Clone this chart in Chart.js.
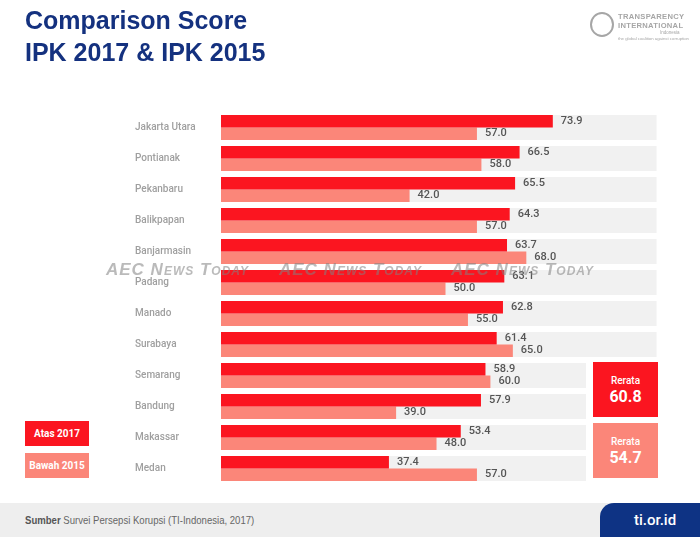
<!DOCTYPE html>
<html>
<head>
<meta charset="utf-8">
<script src="https://cdn.jsdelivr.net/npm/chart.js@4.4.1/dist/chart.umd.min.js"></script>
<style>
  body { margin: 0; background: #fff; font-family: Roboto, "Liberation Sans", sans-serif; }
  #page { position: relative; width: 700px; height: 537px; overflow: hidden; background: #fff; }
  #chart { position: absolute; left: 0; top: 0; }
  .title { position: absolute; left: 25px; top: 4px; color: #14317f; font-family: "Liberation Sans", Arial, sans-serif;
           font-weight: bold; font-size: 25px; line-height: 32px; }
  .logo { position: absolute; left: 590px; top: 11px; width: 105px; height: 32px; color: #a6a6a6; }
  .logo .ring { position: absolute; left: 0; top: 1px; width: 20px; height: 21px; border: 2px solid #a6a6a6; border-radius: 50%; }
  .logo .t1 { position: absolute; left: 28px; top: 1px; font: bold 7.6px "Liberation Sans", Arial, sans-serif; line-height: 9px; letter-spacing: 0.3px; }
  .logo .t2 { position: absolute; left: 70px; top: 19px; font: 4.5px "Liberation Sans", Arial, sans-serif; }
  .logo .t3 { position: absolute; left: 28px; top: 25px; font: 4.3px "Liberation Sans", Arial, sans-serif; white-space: nowrap; }
  .box { position: absolute; color: #fff; text-align: center; font-weight: 500; }
  .leg { left: 25px; width: 64px; height: 25px; line-height: 25px; font-size: 10px; font-weight: bold; }
  .rer { left: 593px; width: 65px; height: 55px; }
  .rer .a { font-size: 10px; margin-top: 13px; line-height: 12px; }
  .rer .b { font-size: 16px; font-weight: bold; line-height: 20px; }
  .wm { position: absolute; top: 260px; color: rgba(130,130,130,0.55); font: italic bold 17px "Liberation Sans", Arial, sans-serif;
        font-variant: small-caps; letter-spacing: 1px; white-space: nowrap; pointer-events: none; }
  .footer { position: absolute; left: 0; top: 503px; width: 700px; height: 34px; background: #eeeeee; }
  .footer .src { position: absolute; left: 25px; top: 11px; font: 11px "Liberation Sans", Arial, sans-serif; color: #666;
                 white-space: nowrap; transform: scaleX(0.87); transform-origin: left center; }
  .footer .src b { color: #555; }
  .footer .tab { position: absolute; left: 600px; top: 0; width: 100px; height: 34px; background: #0e3384;
                 border-top-left-radius: 14px; color: #fff; font-size: 15px; font-weight: 500; text-align: center; line-height: 34px;
                 text-indent: 10px; }
</style>
</head>
<body>
<div id="page">
  <canvas id="chart" width="700" height="537"></canvas>
  <div class="title">Comparison Score<br>IPK 2017 &amp; IPK 2015</div>
  <div class="logo">
    <div class="ring"></div>
    <div class="t1">TRANSPARENCY<br>INTERNATIONAL</div>
    <div class="t2">Indonesia</div>
    <div class="t3">the global coalition against corruption</div>
  </div>
  <div class="wm" style="left:106px">AEC News Today</div>
  <div class="wm" style="left:279px">AEC News Today</div>
  <div class="wm" style="left:451px">AEC News Today</div>
  <div class="box leg" style="top:421px;background:#fb1520">Atas 2017</div>
  <div class="box leg" style="top:453px;background:#fb8679">Bawah 2015</div>
  <div class="box rer" style="top:362px;background:#fb1520"><div class="a">Rerata</div><div class="b">60.8</div></div>
  <div class="box rer" style="top:423px;background:#fb8679"><div class="a">Rerata</div><div class="b">54.7</div></div>
  <div class="footer">
    <div class="src"><b>Sumber</b> Survei Persepsi Korupsi (TI-Indonesia, 2017)</div>
    <div class="tab">ti.or.id</div>
  </div>
</div>
<script>
// data
const cities = ["Jakarta Utara", "Pontianak", "Pekanbaru", "Balikpapan", "Banjarmasin", "Padang",
                "Manado", "Surabaya", "Semarang", "Bandung", "Makassar", "Medan"];
const ipk2017 = [73.9, 66.5, 65.5, 64.3, 63.7, 63.1, 62.8, 61.4, 58.9, 57.9, 53.4, 37.4];
const ipk2015 = [57.0, 58.0, 42.0, 57.0, 68.0, 50.0, 55.0, 65.0, 60.0, 39.0, 48.0, 57.0];

// grey band behind each pair of bars
const bands = {
  id: 'bands',
  beforeDatasetsDraw(chart) {
    const { ctx, scales: { x, y } } = chart;
    const step = y.getPixelForValue(1) - y.getPixelForValue(0);
    const h = step * 0.81;
    ctx.save();
    ctx.fillStyle = '#f1f1f1';
    cities.forEach((c, i) => {
      const yc = y.getPixelForValue(i);
      const right = i < 8 ? x.getPixelForValue(97) : x.getPixelForValue(81.3);
      ctx.fillRect(x.left, yc - h / 2, right - x.left, h);
    });
    ctx.restore();
  }
};

// value labels at bar ends
const valueLabels = {
  id: 'valueLabels',
  afterDatasetsDraw(chart) {
    const { ctx } = chart;
    ctx.save();
    ctx.font = '500 11px Roboto';
    ctx.fillStyle = '#555';
    ctx.textBaseline = 'middle';
    chart.data.datasets.forEach((ds, di) => {
      chart.getDatasetMeta(di).data.forEach((el, i) => {
        ctx.fillText(ds.data[i].toFixed(1), el.x + 8, el.y);
      });
    });
    ctx.restore();
  }
};

new Chart(document.getElementById('chart').getContext('2d'), {
  type: 'bar',
  data: {
    labels: cities,
    datasets: [
      { label: 'Atas 2017', data: ipk2017, backgroundColor: '#fb1520' },
      { label: 'Bawah 2015', data: ipk2015, backgroundColor: '#fb8679' }
    ]
  },
  options: {
    indexAxis: 'y',
    responsive: false,
    animation: false,
    layout: { padding: { left: 135, top: 112, right: 30, bottom: 53 } },
    datasets: { bar: { categoryPercentage: 0.8, barPercentage: 1.0 } },
    plugins: { legend: { display: false }, tooltip: { enabled: false } },
    scales: {
      x: { display: false, min: 0, max: 100 },
      y: {
        grid: { display: false },
        border: { display: false },
        afterFit(scale) { scale.width = 86; },
        ticks: {
          autoSkip: false,
          crossAlign: 'far',
          padding: 0,
          color: '#9f9f9f',
          font: { family: 'Roboto', size: 10, weight: '500' }
        }
      }
    }
  },
  plugins: [bands, valueLabels]
});
</script>
</body>
</html>
